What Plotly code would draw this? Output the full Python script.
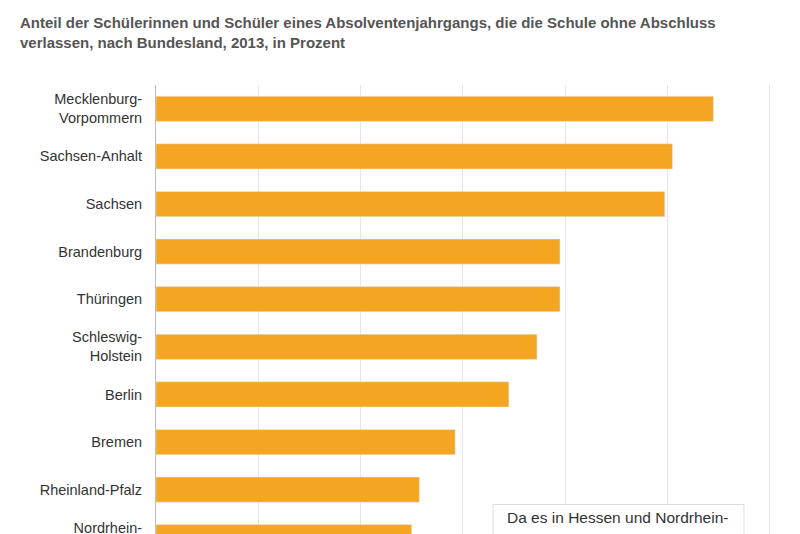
import plotly.graph_objects as go

states = ["Mecklenburg-<br>Vorpommern", "Sachsen-Anhalt", "Sachsen", "Brandenburg", "Thüringen",
          "Schleswig-<br>Holstein", "Berlin", "Bremen", "Rheinland-Pfalz", "Nordrhein-<br>Westfalen"]
values = [10.9, 10.1, 9.95, 7.9, 7.9, 7.45, 6.9, 5.85, 5.15, 5.0]

fig = go.Figure(go.Bar(
    x=values, y=states, orientation="h",
    marker=dict(color="#f4a522"), width=0.53, hoverinfo="x+y"
))

fig.update_layout(
    width=800, height=534,
    margin=dict(l=148, r=0, t=77, b=0, autoexpand=False),
    paper_bgcolor="white", plot_bgcolor="white",
    font=dict(family="Liberation Sans, Arial", size=14.5, color="#333"),
    showlegend=False,
    xaxis=dict(range=[0, 12.75], dtick=2, showticklabels=False, gridcolor="#e6e6e6",
               zeroline=False, fixedrange=True),
    yaxis=dict(range=[9.1, -0.5], showline=True, linecolor="#bbbbbb", ticks="",
               ticklabelstandoff=10, fixedrange=True),
    annotations=[
        dict(text="<b>Anteil der Schülerinnen und Schüler eines Absolventenjahrgangs, die die Schule ohne Abschluss"
                  "<br>verlassen, nach Bundesland, 2013, in Prozent</b>",
             xref="paper", yref="paper", x=(10 - 148) / 652, y=1.16, xanchor="left", yanchor="top",
             align="left", showarrow=False, font=dict(size=15, color="#555")),
        dict(text="Da es in Hessen und Nordrhein-", xref="paper", yref="paper",
             x=(497 - 148) / 652, y=0.053, xanchor="left", yanchor="middle", showarrow=False,
             font=dict(size=15.5, color="#333")),
    ],
    shapes=[dict(type="rect", xref="paper", yref="paper", x0=(485 - 148) / 652, x1=(736 - 148) / 652,
                 y0=-0.1, y1=0.082, line=dict(color="#dddddd", width=1),
                 fillcolor="white")],
)

fig.write_html("out.html")
